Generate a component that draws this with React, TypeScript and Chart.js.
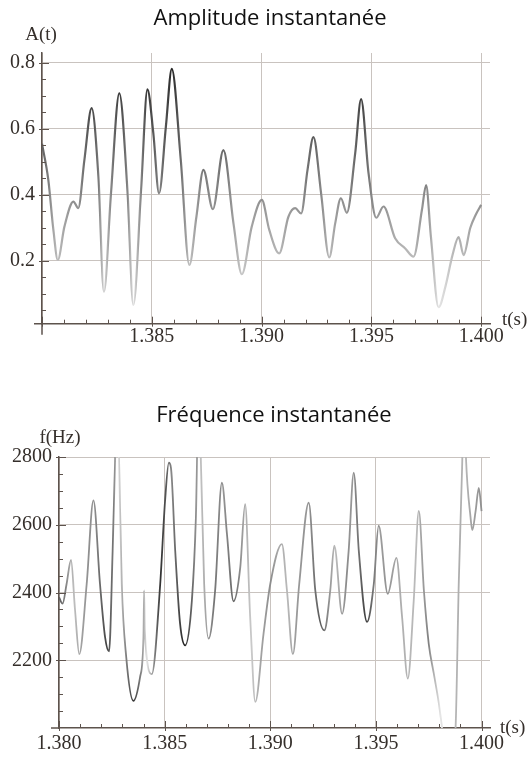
import React, { useEffect, useRef } from 'react';
import { Chart, registerables } from 'chart.js';

Chart.register(...registerables);

// ---- Data ----
const AMP_T = [
  1.38000, 1.38029, 1.38052, 1.38072, 1.38102, 1.38143, 1.38165, 1.38193, 1.38226, 1.38257,
  1.38282, 1.38314, 1.38352, 1.38389, 1.38416, 1.38451, 1.38480, 1.38507, 1.38533, 1.38564,
  1.38591, 1.38632, 1.38671, 1.38703, 1.38735, 1.38778, 1.38826, 1.38872, 1.38910, 1.38955,
  1.39001, 1.39035, 1.39080, 1.39122, 1.39153, 1.39180, 1.39209, 1.39236, 1.39271, 1.39308,
  1.39335, 1.39361, 1.39388, 1.39426, 1.39453, 1.39487, 1.39522, 1.39555, 1.39608, 1.39654,
  1.39692, 1.39730, 1.39749, 1.39771, 1.39806, 1.39836, 1.39870, 1.39897, 1.39920, 1.39950,
  1.39975, 1.40000,
];
const AMP_V = [
  0.555, 0.445, 0.294, 0.203, 0.304, 0.380, 0.360, 0.506, 0.663, 0.455,
  0.107, 0.405, 0.708, 0.415, 0.067, 0.415, 0.720, 0.587, 0.405, 0.607,
  0.782, 0.506, 0.188, 0.334, 0.476, 0.357, 0.536, 0.314, 0.160, 0.304,
  0.385, 0.294, 0.223, 0.334, 0.360, 0.344, 0.476, 0.575, 0.405, 0.211,
  0.314, 0.390, 0.346, 0.526, 0.690, 0.466, 0.331, 0.365, 0.269, 0.238,
  0.213, 0.355, 0.430, 0.274, 0.060, 0.120, 0.220, 0.272, 0.218, 0.300,
  0.340, 0.370,
];

const FREQ_T = [
  1.38000, 1.38017, 1.38036, 1.38057, 1.38076, 1.38096, 1.38131, 1.38163, 1.38194, 1.38218,
  1.38237, 1.38254, 1.38266, 1.38274, 1.38284, 1.38297, 1.38318, 1.38352, 1.38384, 1.38400,
  1.38403, 1.38406, 1.38439, 1.38479, 1.38502, 1.38520, 1.38530, 1.38550, 1.38573, 1.38597,
  1.38629, 1.38648, 1.38660, 1.38671, 1.38687, 1.38708, 1.38739, 1.38771, 1.38795, 1.38826,
  1.38858, 1.38881, 1.38905, 1.38929, 1.38968, 1.39000, 1.39055, 1.39079, 1.39107, 1.39137,
  1.39182, 1.39213, 1.39256, 1.39284, 1.39303, 1.39340, 1.39371, 1.39395, 1.39419, 1.39458,
  1.39490, 1.39513, 1.39556, 1.39597, 1.39624, 1.39651, 1.39679, 1.39703, 1.39727, 1.39750,
  1.39774, 1.39798, 1.39813, 1.39845, 1.39877, 1.39892, 1.39908, 1.39917, 1.39926, 1.39948,
  1.39956, 1.39972, 1.39987, 1.40000,
];
const FREQ_V = [
  2386, 2367, 2425, 2496, 2347, 2218, 2425, 2672, 2425, 2268,
  2226, 2523, 2800, 3050, 2800, 2425, 2210, 2080, 2151, 2268,
  2406, 2290, 2159, 2425, 2670, 2783, 2768, 2523, 2308, 2244,
  2376, 2621, 2950, 2800, 2425, 2264, 2406, 2724, 2572, 2374,
  2474, 2661, 2327, 2077, 2278, 2425, 2543, 2406, 2218, 2425,
  2665, 2406, 2288, 2406, 2538, 2337, 2523, 2754, 2523, 2313,
  2425, 2597, 2396, 2502, 2327, 2146, 2376, 2641, 2406, 2249,
  2161, 2073, 2000, 1850, 2000, 2425, 2768, 3000, 2800, 2621,
  2584, 2641, 2709, 2640,
];

const X_TICK_LABELS = ['1.380', '1.385', '1.390', '1.395', '1.400'];
const AMP_TICK_LABELS = ['0.2', '0.4', '0.6', '0.8'];
const FREQ_TICK_LABELS = ['2200', '2400', '2600', '2800'];

// ---- Styles ----
const GRID = '#c9c3bf';
const AXIS = '#5d534d';
const LABEL = '#352f2b';
const SERIF = '"Liberation Serif", "Times New Roman", serif';

function grayFor(a: number) {
  const g = Math.max(28, Math.min(232, Math.round(245 - 270 * a)));
  return `rgb(${g},${g},${g})`;
}

function amplitudeGradient(chart: any) {
  const { chartArea, scales, ctx } = chart;
  if (!chartArea) return '#888';
  const x = scales.x;
  const w = chartArea.right - chartArea.left;
  const g = ctx.createLinearGradient(chartArea.left, 0, chartArea.right, 0);
  AMP_T.forEach((t, i) => {
    const off = (x.getPixelForValue(t) - chartArea.left) / w;
    if (off >= 0 && off <= 1) g.addColorStop(off, grayFor(AMP_V[i]));
  });
  return g;
}

function matches(labels: string[], v: number) {
  return labels.find((l) => Math.abs(parseFloat(l) - v) < 1e-7);
}

function makeTickPlugin(xLabels: string[], yLabels: string[], yExtend: number, xExtend: number) {
  return {
    id: 'insideTicks',
    afterDraw(chart: any) {
      const { ctx, scales, chartArea } = chart;
      const x = scales.x;
      const y = scales.y;
      ctx.save();
      ctx.strokeStyle = AXIS;
      // axis extensions past the crossing point
      ctx.lineWidth = 1.5;
      ctx.beginPath();
      ctx.moveTo(chartArea.left, chartArea.bottom);
      ctx.lineTo(chartArea.left, chartArea.bottom + yExtend);
      ctx.moveTo(chartArea.left, chartArea.bottom);
      ctx.lineTo(chartArea.left - xExtend, chartArea.bottom);
      ctx.stroke();
      ctx.lineWidth = 1;
      x.ticks.forEach((t: any) => {
        const px = Math.round(x.getPixelForValue(t.value)) + 0.5;
        const major = !!matches(xLabels, t.value);
        ctx.beginPath();
        ctx.moveTo(px, chartArea.bottom + (major ? 3 : 0));
        ctx.lineTo(px, chartArea.bottom - (major ? 7 : 4));
        ctx.stroke();
      });
      y.ticks.forEach((t: any) => {
        const py = Math.round(y.getPixelForValue(t.value)) + 0.5;
        const major = !!matches(yLabels, t.value);
        ctx.beginPath();
        ctx.moveTo(chartArea.left - (major ? 3 : 0), py);
        ctx.lineTo(chartArea.left + (major ? 7 : 4), py);
        ctx.stroke();
      });
      ctx.restore();
    },
  };
}

interface Cfg {
  t: number[];
  v: number[];
  yMin: number;
  yMax: number;
  yTickStart: number;
  yTickStep: number;
  yTickCount: number;
  yLabels: string[];
  showFirstX: boolean;
  yWidth: number;
  padTop: number;
  padBottom: number;
  xLabelPad: number;
  lineWidth: number;
  yExtend: number;
  xExtend: number;
}

function buildConfig(c: Cfg): any {
  const xTicks: any[] = [];
  for (let i = 0; i <= 20; i++) xTicks.push({ value: (1380 + i) / 1000 });
  const yTicks: any[] = [];
  for (let k = 0; k < c.yTickCount; k++) yTicks.push({ value: c.yTickStart + k * c.yTickStep });
  const points = c.t.map((t, i) => ({ x: t, y: c.v[i] }));
  return {
    type: 'line',
    data: {
      datasets: [
        {
          data: points,
          borderColor: (ctx: any) => amplitudeGradient(ctx.chart),
          borderWidth: c.lineWidth,
          pointRadius: 0,
          cubicInterpolationMode: 'monotone',
          fill: false,
        },
      ],
    },
    options: {
      responsive: false,
      maintainAspectRatio: false,
      animation: false,
      events: [],
      layout: { padding: { top: c.padTop, left: 0, right: 40, bottom: c.padBottom } },
      plugins: { legend: { display: false }, title: { display: false }, tooltip: { enabled: false } },
      scales: {
        x: {
          type: 'linear',
          min: 1.38,
          max: 1.4004,
          afterBuildTicks: (s: any) => { s.ticks = xTicks.map((t) => ({ ...t })); },
          afterFit: (s: any) => { s.height = 25; },
          grid: {
            drawTicks: false,
            color: (ctx: any) => (ctx.tick && matches(X_TICK_LABELS, ctx.tick.value) ? GRID : 'rgba(0,0,0,0)'),
            lineWidth: 1,
          },
          border: { display: true, color: AXIS, width: 1.5 },
          ticks: {
            autoSkip: false,
            maxRotation: 0,
            minRotation: 0,
            padding: c.xLabelPad,
            color: LABEL,
            font: { family: SERIF, size: 20 },
            callback: (v: any) => {
              const m = matches(X_TICK_LABELS, v);
              if (!m) return '';
              if (!c.showFirstX && m === X_TICK_LABELS[0]) return '';
              return m;
            },
          },
        },
        y: {
          type: 'linear',
          min: c.yMin,
          max: c.yMax,
          afterBuildTicks: (s: any) => { s.ticks = yTicks.map((t) => ({ ...t })); },
          afterFit: (s: any) => { s.width = c.yWidth; },
          grid: {
            drawTicks: false,
            color: (ctx: any) => (ctx.tick && matches(c.yLabels, ctx.tick.value) ? GRID : 'rgba(0,0,0,0)'),
            lineWidth: 1,
          },
          border: { display: true, color: AXIS, width: 1.5 },
          ticks: {
            autoSkip: false,
            padding: 7,
            color: LABEL,
            font: { family: SERIF, size: 20 },
            callback: (v: any) => matches(c.yLabels, v) || '',
          },
        },
      },
    },
    plugins: [makeTickPlugin(X_TICK_LABELS, c.yLabels, c.yExtend, c.xExtend)],
  };
}

function ChartCanvas({ cfg, top, height }: { cfg: Cfg; top: number; height: number }) {
  const ref = useRef<HTMLCanvasElement | null>(null);
  useEffect(() => {
    if (!ref.current) return;
    const chart = new Chart(ref.current, buildConfig(cfg));
    chart.update();
    return () => chart.destroy();
  }, []);
  return (
    <canvas
      ref={ref}
      width={530}
      height={height}
      style={{ position: 'absolute', left: 0, top, width: 530, height, display: 'block' }}
    />
  );
}

const ampCfg: Cfg = {
  t: AMP_T,
  v: AMP_V,
  yMin: 0.01,
  yMax: 0.83,
  yTickStart: 0.05,
  yTickStep: 0.05,
  yTickCount: 16,
  yLabels: AMP_TICK_LABELS,
  showFirstX: false,
  yWidth: 42,
  padTop: 53,
  padBottom: 370 - 323.7 - 25,
  xLabelPad: 1,
  lineWidth: 2.2,
  yExtend: 11,
  xExtend: 8,
};

const freqCfg: Cfg = {
  t: FREQ_T,
  v: FREQ_V,
  yMin: 2000,
  yMax: 2800,
  yTickStart: 2050,
  yTickStep: 50,
  yTickCount: 16,
  yLabels: FREQ_TICK_LABELS,
  showFirstX: true,
  yWidth: 59,
  padTop: 87,
  padBottom: 388 - 358 - 25,
  xLabelPad: 4,
  lineWidth: 1.8,
  yExtend: 0,
  xExtend: 8,
};

const serifText: React.CSSProperties = {
  position: 'absolute',
  whiteSpace: 'nowrap',
  fontFamily: SERIF,
  fontSize: 19,
  lineHeight: '19px',
  color: LABEL,
};

const titleText: React.CSSProperties = {
  position: 'absolute',
  whiteSpace: 'nowrap',
  fontFamily: '"Open Sans", sans-serif',
  fontSize: 22,
  lineHeight: '30px',
  color: '#111',
  transform: 'translateX(-50%)',
};

export default function App() {
  return (
    <div style={{ position: 'absolute', left: 0, top: 0, width: 530, height: 758, background: '#fff', overflow: 'hidden' }}>
      <ChartCanvas cfg={ampCfg} top={0} height={370} />
      <ChartCanvas cfg={freqCfg} top={370} height={388} />
      <div style={{ ...titleText, left: 270, top: 1 }}>Amplitude instantanée</div>
      <div style={{ ...titleText, left: 274, top: 398 }}>Fréquence instantanée</div>
      <div style={{ ...serifText, left: 41, top: 24, transform: 'translateX(-50%)' }}>A(t)</div>
      <div style={{ ...serifText, left: 502, top: 309 }}>t(s)</div>
      <div style={{ ...serifText, left: 60, top: 427, transform: 'translateX(-50%)' }}>f(Hz)</div>
      <div style={{ ...serifText, left: 500, top: 717 }}>t(s)</div>
    </div>
  );
}
